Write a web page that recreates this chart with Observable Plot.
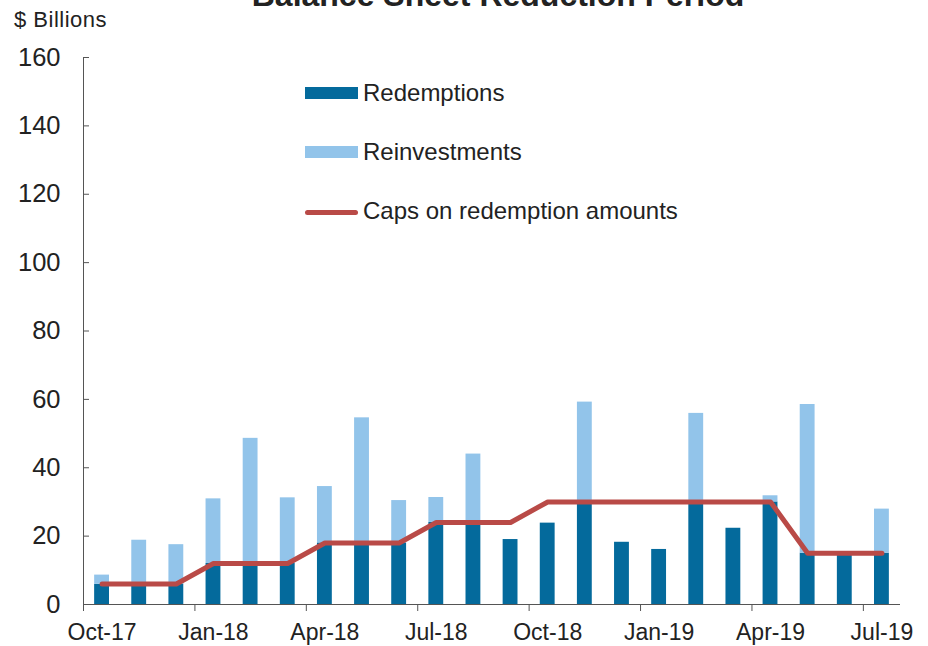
<!DOCTYPE html>
<html>
<head>
<meta charset="utf-8">
<script src="https://cdn.jsdelivr.net/npm/d3@7"></script>
<script src="https://cdn.jsdelivr.net/npm/@observablehq/plot@0.6"></script>
<style>
  body { margin: 0; background: #fff; font-family: "Liberation Sans", Arial, sans-serif; color: #222; }
  #wrap { position: relative; width: 928px; height: 646px; overflow: hidden; }
  #chart { position: absolute; left: 0; top: 0; }
  .title { position: absolute; left: 0; width: 996px; top: -21.5px; text-align: center; font-size: 32px; line-height: 32px; font-weight: bold; white-space: nowrap; }
  .unit { position: absolute; left: 14px; top: 8.5px; font-size: 22px; line-height: 22px; letter-spacing: 0.5px; white-space: nowrap; }
  .leg { position: absolute; left: 305px; }
  .leg .sw { position: absolute; left: 0; width: 53px; }
  .leg .lab { position: absolute; left: 58px; font-size: 24px; line-height: 24px; white-space: nowrap; }
</style>
</head>
<body>
<div id="wrap">
  <div id="chart"></div>
  <div class="title">Balance Sheet Reduction Period</div>
  <div class="unit">$ Billions</div>
  <div id="legend"></div>
</div>
<script>
// ---- data ----
const months = ["Oct-17","Nov-17","Dec-17","Jan-18","Feb-18","Mar-18","Apr-18","May-18","Jun-18","Jul-18","Aug-18","Sep-18",
                "Oct-18","Nov-18","Dec-18","Jan-19","Feb-19","Mar-19","Apr-19","May-19","Jun-19","Jul-19"];
const redemptions   = [5.9, 6, 6, 12, 12, 12, 18, 18, 18, 24, 24, 19.0, 23.8, 30, 18.2, 16.1, 30, 22.3, 30, 15, 14.9, 15];
const reinvestments = [2.7, 12.8, 11.5, 18.9, 36.6, 19.2, 16.5, 36.6, 12.4, 7.3, 20.0, 0, 0, 29.2, 0, 0, 25.9, 0, 1.8, 43.5, 0, 12.9];
const caps          = [6, 6, 6, 12, 12, 12, 18, 18, 18, 24, 24, 24, 30, 30, 30, 30, 30, 30, 30, 15, 15, 15];
const xTickLabels = ["Oct-17","Jan-18","Apr-18","Jul-18","Oct-18","Jan-19","Apr-19","Jul-19"];
const yTicks = [0, 20, 40, 60, 80, 100, 120, 140, 160];
const seriesNames = ["Redemptions", "Reinvestments", "Caps on redemption amounts"];

const colors = { dark: "#046a9c", light: "#92c4ea", red: "#b94a47", axis: "#555" };

const table = months.map((m, i) => ({
  i, month: m, red: redemptions[i], rein: reinvestments[i], cap: caps[i]
}));
const tickIdx = xTickLabels.map(l => months.indexOf(l));

const chart = Plot.plot({
  width: 928,
  height: 646,
  marginTop: 57,
  marginBottom: 42,
  marginLeft: 83,
  marginRight: 28,
  style: { fontFamily: "'Liberation Sans', Arial, sans-serif", color: "#222", background: "transparent" },
  x: { domain: [0, months.length], label: null },
  y: { domain: [0, 160], label: null },
  marks: [
    Plot.rect(table, { x1: d => d.i + 0.3, x2: d => d.i + 0.7, y1: 0, y2: "red", fill: colors.dark }),
    Plot.rect(table.filter(d => d.rein > 0), { x1: d => d.i + 0.3, x2: d => d.i + 0.7, y1: "red", y2: d => d.red + d.rein, fill: colors.light }),
    Plot.line(table, { x: d => d.i + 0.5, y: "cap", stroke: colors.red, strokeWidth: 5, strokeLinecap: "round", strokeLinejoin: "round" }),
    Plot.ruleX([0], { stroke: colors.axis }),
    Plot.ruleY([0], { stroke: colors.axis }),
    Plot.axisY(yTicks, { tickSize: 0, tickPadding: 23, fontSize: 25.5, fill: "#222" }),
    Plot.axisY(yTicks, { tickSize: -6, fill: "none", stroke: colors.axis }),
    Plot.axisX(tickIdx.map(i => i + 0.5), { tickSize: 0, tickPadding: 19.5, fontSize: 23, fill: "#222",
      tickFormat: v => months[Math.round(v - 0.5)] }),
    Plot.axisX(tickIdx, { tickSize: 7, fill: "none", stroke: colors.axis })
  ]
});
document.getElementById("chart").appendChild(chart);

// legend
const legend = document.getElementById("legend");
const legendItems = [
  { name: seriesNames[0], kind: "bar", color: colors.dark, top: 81 },
  { name: seriesNames[1], kind: "bar", color: colors.light, top: 139.5 },
  { name: seriesNames[2], kind: "line", color: colors.red, top: 199 }
];
for (const it of legendItems) {
  const row = document.createElement("div");
  row.className = "leg";
  row.style.top = it.top + "px";
  const sw = document.createElement("div");
  sw.className = "sw";
  if (it.kind === "bar") {
    sw.style.top = "6px"; sw.style.height = "12px"; sw.style.background = it.color;
  } else {
    sw.style.top = "10.5px"; sw.style.height = "5px"; sw.style.background = it.color; sw.style.borderRadius = "3px";
  }
  const lab = document.createElement("div");
  lab.className = "lab";
  lab.textContent = it.name;
  row.appendChild(sw); row.appendChild(lab);
  legend.appendChild(row);
}
</script>
</body>
</html>
